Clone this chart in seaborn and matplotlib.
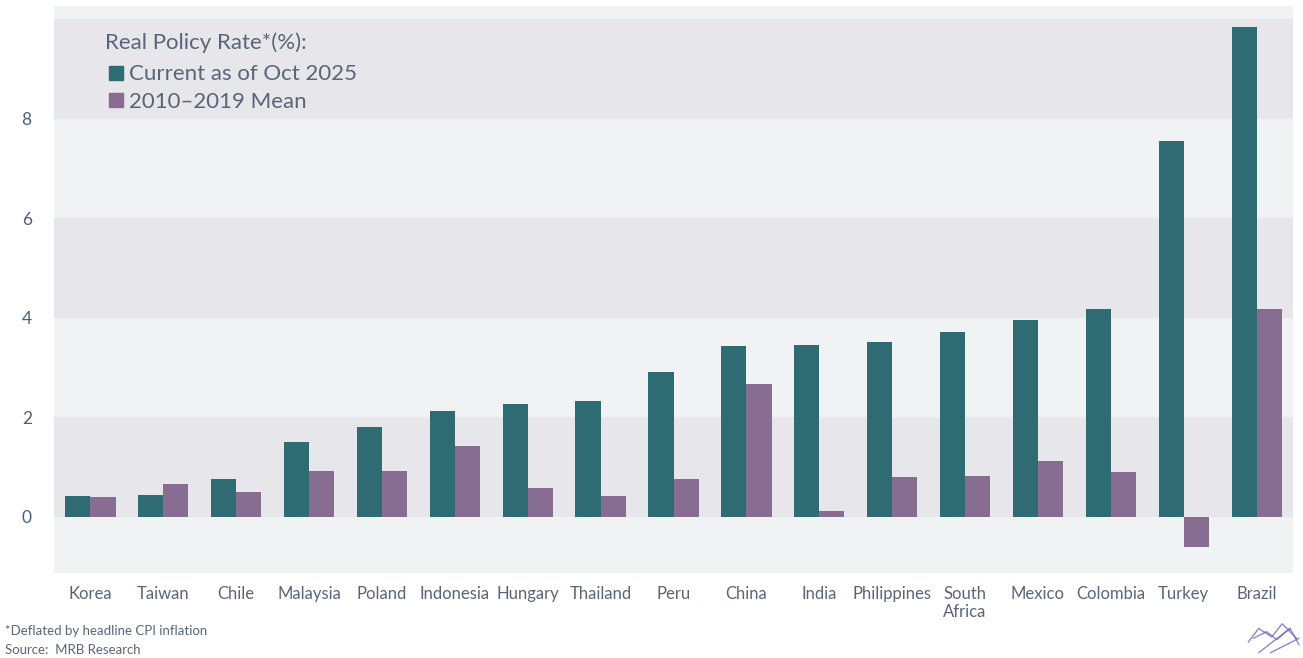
import matplotlib
matplotlib.use("Agg")
import matplotlib.pyplot as plt
from matplotlib.lines import Line2D
import pandas as pd
import seaborn as sns

COUNTRIES = [
    "Korea", "Taiwan", "Chile", "Malaysia", "Poland", "Indonesia", "Hungary",
    "Thailand", "Peru", "China", "India", "Philippines", "South\nAfrica",
    "Mexico", "Colombia", "Turkey", "Brazil",
]
CURRENT = [0.43, 0.45, 0.76, 1.51, 1.81, 2.13, 2.27, 2.33, 2.91, 3.44,
           3.46, 3.52, 3.72, 3.96, 4.18, 7.56, 9.85]
MEAN_2010_2019 = [0.39, 0.66, 0.50, 0.92, 0.92, 1.43, 0.58, 0.42, 0.76, 2.67,
                  0.12, 0.80, 0.82, 1.13, 0.90, -0.60, 4.18]
SERIES = ["Current as of Oct 2025", "2010\u20132019 Mean"]
Y_TICKS = [0, 2, 4, 6, 8]

TEAL = "#2e6b73"
PURPLE = "#866d91"
DARK_BAND = "#e6e6eb"
LIGHT_BAND = "#f1f2f4"
TEXT = "#5b6478"

sns.set_style("white")
plt.rcParams["font.family"] = ["Lato", "DejaVu Sans"]

df = pd.DataFrame({
    "country": COUNTRIES * 2,
    "value": CURRENT + MEAN_2010_2019,
    "series": [SERIES[0]] * len(COUNTRIES) + [SERIES[1]] * len(COUNTRIES),
})

fig = plt.figure(figsize=(13.03, 6.58), dpi=100)
ax = fig.add_axes([0.0414, 0.129, 0.951, 0.862])
ax.set_facecolor(LIGHT_BAND)

# alternating background bands
for lo in (0, 4, 8):
    ax.axhspan(lo, lo + 2, color=DARK_BAND, zorder=0, lw=0)

sns.barplot(
    data=df, x="country", y="value", hue="series",
    palette=[TEAL, PURPLE], width=0.69, saturation=1, linewidth=0,
    ax=ax, legend=False, zorder=2,
)

ax.set_ylim(-1.13, 10.27)
ax.set_xlim(-0.5, len(COUNTRIES) - 0.5)
ax.set_yticks(Y_TICKS)
ax.set_xlabel("")
ax.set_ylabel("")
for s in ax.spines.values():
    s.set_visible(False)
ax.tick_params(axis="y", length=0, pad=16, labelsize=12.5, labelcolor="#4b5e80")
ax.tick_params(axis="x", length=0, pad=9, labelsize=12, labelcolor=TEXT)

handles = [
    Line2D([], [], marker="s", ls="none", color=TEAL, markersize=10),
    Line2D([], [], marker="s", ls="none", color=PURPLE, markersize=10),
]
leg = ax.legend(
    handles, SERIES, title="Real Policy Rate*(%):", loc="upper left",
    bbox_to_anchor=(0.025, 0.988), frameon=False, fontsize=16,
    title_fontsize=16, handletextpad=0.1, handlelength=1.0,
    labelspacing=0.35, labelcolor=TEXT,
)
leg._legend_box.align = "left"
leg._legend_box.sep = 8
leg.get_title().set_color(TEXT)

fig.text(0.004, 0.041, "*Deflated by headline CPI inflation",
         fontsize=9.5, color=TEXT, va="center")
fig.text(0.004, 0.012, "Source:  MRB Research",
         fontsize=9.5, color=TEXT, va="center")

# small crown logo, bottom right
crown = [
    ([0.958, 0.966, 0.976, 0.984, 0.995], [0.024, 0.045, 0.032, 0.052, 0.030]),
    ([0.962, 0.972, 0.980, 0.990, 0.997], [0.030, 0.040, 0.028, 0.045, 0.020]),
    ([0.966, 0.990], [0.008, 0.045]),
    ([0.975, 0.997], [0.008, 0.030]),
]
for xs, ys in crown:
    fig.add_artist(Line2D(xs, ys, color="#6f69c4", lw=1.0, alpha=0.8))

fig.savefig("out.png", dpi=100)
